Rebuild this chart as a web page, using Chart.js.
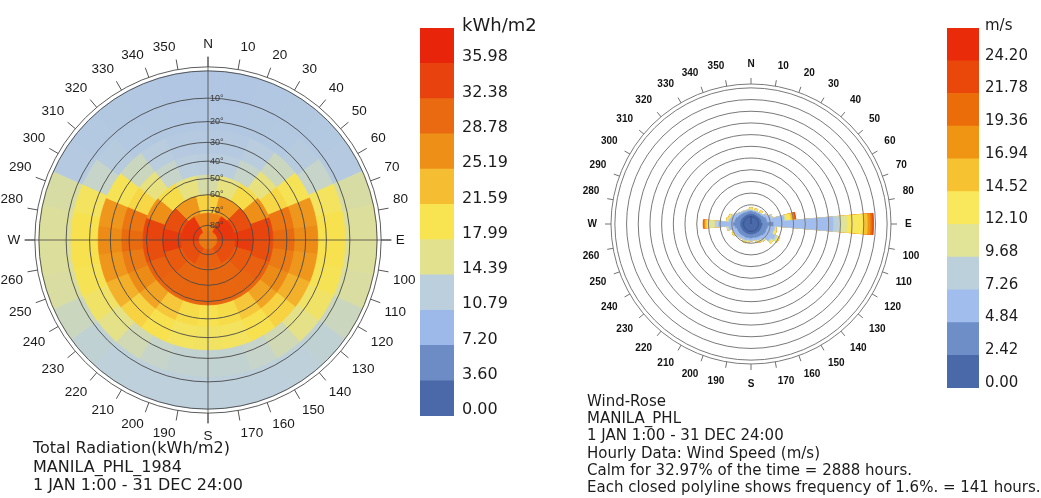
<!DOCTYPE html>
<html lang="en">
<head>
<meta charset="utf-8">
<title>Manila - total radiation sky dome and wind rose</title>
<script src="https://cdn.jsdelivr.net/npm/chart.js@4.4.1/dist/chart.umd.min.js"></script>
<style>
  html, body { margin: 0; padding: 0; background: #ffffff; }
  #page { position: relative; width: 1041px; height: 498px; overflow: hidden;
          font-family: "DejaVu Sans", Verdana, sans-serif; color: #1c1c1c; }
  #page canvas { position: absolute; }
  .caption { position: absolute; white-space: nowrap; }
</style>
</head>
<body>
<div id="page">
  <canvas id="skyDome" width="418" height="409" style="left:0px; top:36px;"></canvas>
  <canvas id="skyLegend" width="104" height="396" style="left:420px; top:26px;"></canvas>
  <canvas id="windRose" width="342" height="332" style="left:580px; top:58px;"></canvas>
  <canvas id="windLegend" width="94" height="368" style="left:947px; top:26px;"></canvas>

  <div class="caption" style="left:462px; top:14px; font-size:18px; line-height:22px;">kWh/m2</div>
  <div class="caption" style="left:985px; top:15px; font-size:15px; line-height:20px;">m/s</div>

  <div class="caption" style="left:33px; top:439px; font-size:16px; line-height:18.5px;">
    <div>Total Radiation(kWh/m2)</div>
    <div>MANILA_PHL_1984</div>
    <div>1 JAN 1:00 - 31 DEC 24:00</div>
  </div>
  <div class="caption" style="left:587px; top:393px; font-size:15px; line-height:17.2px;">
    <div>Wind-Rose</div>
    <div>MANILA_PHL</div>
    <div>1 JAN 1:00 - 31 DEC 24:00</div>
    <div>Hourly Data: Wind Speed (m/s)</div>
    <div>Calm for 32.97% of the time = 2888 hours.</div>
    <div>Each closed polyline shows frequency of 1.6%. = 141 hours.</div>
  </div>
</div>

<script>
// direction labels, N clockwise every 10 deg (used by both polar plots)
const DIRECTIONS = ['N', '10', '20', '30', '40', '50', '60', '70', '80', 'E',
  '100', '110', '120', '130', '140', '150', '160', '170', 'S',
  '190', '200', '210', '220', '230', '240', '250', '260', 'W',
  '280', '290', '300', '310', '320', '330', '340', '350'];

// ---- sky dome: total radiation per Tregenza patch (kWh/m2) ----
// each band starts with the patch centred on north and goes clockwise
const BAND_ALTITUDES = [0, 12, 24, 36, 48, 60, 72, 84];   // lower altitude of each band
const SKY_BAND_1 = [11.2, 11.2, 11.3, 11.4, 11.5, 11.8, 15.2, 15.6, 15.6, 15.3,
  14.0, 13.0, 12.8, 12.7, 12.7, 12.7, 12.7, 12.7, 12.8, 13.0,
  14.0, 15.3, 15.6, 15.6, 15.2, 11.8, 11.5, 11.4, 11.3, 11.2];
const SKY_BAND_2 = [11.3, 11.3, 11.4, 11.6, 12.0, 13.5, 19.0, 20.0, 20.0, 19.5,
  18.5, 16.5, 14.5, 13.5, 13.2, 13.2, 13.2, 13.5, 14.5, 16.5,
  18.5, 19.5, 20.0, 20.0, 19.0, 13.5, 12.0, 11.6, 11.4, 11.3];
const SKY_BAND_3 = [11.8, 11.8, 12.2, 14.0, 19.5, 26.5, 27.5, 26.5, 24.5, 21.5, 20.0, 19.0,
  18.8, 19.0, 20.0, 21.5, 24.5, 26.5, 27.5, 26.5, 19.5, 14.0, 12.2, 11.8];
const SKY_BAND_4 = [12.3, 12.5, 13.5, 17.0, 21.0, 29.5, 30.5, 29.0, 27.5, 25.5, 22.5, 20.5,
  20.0, 20.5, 22.5, 25.5, 27.5, 29.0, 30.5, 29.5, 21.0, 17.0, 13.5, 12.5];
const SKY_BAND_5 = [15.0, 17.0, 20.5, 27.0, 34.0, 33.0, 31.5, 31.0, 31.0,
  31.0, 31.0, 31.0, 31.5, 33.0, 34.0, 27.0, 20.5, 17.0];
const SKY_BAND_6 = [21.5, 26.5, 33.0, 35.0, 32.0, 31.0, 31.0, 31.0, 32.0, 35.0, 33.0, 26.5];
const SKY_BAND_7 = [28.5, 35.5, 33.0, 31.5, 33.0, 35.5];
const SKY_CAP = [29.0];
const ALTITUDE_RINGS = [80, 70, 60, 50, 40, 30, 20, 10];

const RAD_TICKS = [0.00, 3.60, 7.20, 10.79, 14.39, 17.99, 21.59, 25.19, 28.78, 32.38, 35.98];
const RAD_COLORS = ['#4b68a8', '#6d8cc6', '#9db9ea', '#bccfdd', '#e2e18e', '#f8e350',
  '#f5be32', '#ee9018', '#e96a10', '#e8420e', '#e8240a'];

// ---- wind rose: % of hours per 10 deg sector (N clockwise) for each speed class ----
const WIND_TICKS = [0.00, 2.42, 4.84, 7.26, 9.68, 12.10, 14.52, 16.94, 19.36, 21.78, 24.20];
const WIND_COLORS = ['#4a69a8', '#6d8ec6', '#a1bdee', '#bbd0db', '#e1e396', '#f9e85c',
  '#f6c232', '#f09414', '#eb6d0a', '#ea480a', '#e92b0a'];
const WIND_0_242 = [0.30, 0.30, 0.30, 0.28, 0.30, 0.32, 0.35, 0.40, 0.35, 0.50,
  0.45, 0.40, 0.40, 0.40, 0.35, 0.35, 0.35, 0.32, 0.35, 0.33,
  0.35, 0.33, 0.35, 0.35, 0.35, 0.35, 0.40, 0.40, 0.40, 0.38,
  0.35, 0.33, 0.32, 0.30, 0.30, 0.30];
const WIND_242_484 = [0.40, 0.35, 0.38, 0.35, 0.40, 0.42, 0.55, 0.70, 0.80, 1.50,
  0.80, 0.75, 0.80, 0.75, 0.65, 0.60, 0.55, 0.50, 0.55, 0.52,
  0.55, 0.52, 0.55, 0.58, 0.60, 0.60, 0.75, 1.00, 0.80, 0.75,
  0.60, 0.52, 0.45, 0.42, 0.38, 0.40];
const WIND_484_726 = [0.15, 0.12, 0.12, 0.12, 0.18, 0.20, 0.40, 0.70, 2.35, 8.20,
  0.90, 0.90, 1.40, 1.05, 0.60, 0.40, 0.35, 0.30, 0.30, 0.30,
  0.35, 0.35, 0.40, 0.45, 0.45, 0.50, 0.80, 2.00, 0.70, 0.60,
  0.45, 0.35, 0.25, 0.22, 0.18, 0.22];
const WIND_726_968 = [0.05, 0.03, 0.04, 0.05, 0.05, 0.06, 0.10, 0.15, 0.10, 0.80,
  0.15, 0.15, 0.25, 0.20, 0.10, 0.08, 0.07, 0.08, 0.10, 0.08,
  0.08, 0.10, 0.10, 0.12, 0.12, 0.15, 0.15, 0.50, 0.15, 0.12,
  0.20, 0.10, 0.08, 0.06, 0.04, 0.08];
const WIND_968_1210 = [0.05, 0, 0.05, 0, 0.05, 0, 0, 0.05, 0.20, 1.10,
  0.05, 0.10, 0.15, 0.10, 0.05, 0.05, 0.05, 0, 0, 0.05,
  0.05, 0, 0, 0, 0.05, 0, 0.05, 0.80, 0.05, 0.05,
  0, 0, 0, 0, 0, 0];
const WIND_1210_1452 = [0.25, 0, 0.25, 0, 0.25, 0, 0, 0, 0.60, 2.20,
  0.10, 0.25, 0.30, 0.25, 0.10, 0.25, 0.25, 0, 0, 0.25,
  0.25, 0, 0, 0, 0.25, 0, 0.10, 0.30, 0.25, 0.25,
  0, 0, 0, 0, 0, 0];
const WIND_1452_1694 = [0, 0, 0, 0, 0, 0, 0, 0, 0.25, 0.60, 0, 0, 0, 0, 0, 0, 0, 0,
  0, 0, 0, 0, 0, 0, 0, 0, 0, 0.20, 0, 0, 0, 0, 0, 0, 0, 0];
const WIND_1694_1936 = [0, 0, 0, 0, 0, 0, 0, 0, 0.20, 0.40, 0, 0, 0, 0, 0, 0, 0, 0,
  0, 0, 0, 0, 0, 0, 0, 0, 0, 0.15, 0, 0, 0, 0, 0, 0, 0, 0];
const WIND_1936_2178 = [0, 0, 0, 0, 0, 0, 0, 0, 0.15, 0.25, 0, 0, 0, 0, 0, 0, 0, 0,
  0, 0, 0, 0, 0, 0, 0, 0, 0, 0.15, 0, 0, 0, 0, 0, 0, 0, 0];
const WIND_2178_2420 = [0, 0, 0, 0, 0, 0, 0, 0, 0.10, 0.15, 0, 0, 0, 0, 0, 0, 0, 0,
  0, 0, 0, 0, 0, 0, 0, 0, 0, 0, 0, 0, 0, 0, 0, 0, 0, 0];
const WIND_OVER_2420 = [0, 0, 0, 0, 0, 0, 0, 0, 0.05, 0.05, 0, 0, 0, 0, 0, 0, 0, 0,
  0, 0, 0, 0, 0, 0, 0, 0, 0, 0, 0, 0, 0, 0, 0, 0, 0, 0];
const FREQ_STEP = 1.6;      // % per closed polyline
const FREQ_RINGS = 11;

document.addEventListener('DOMContentLoaded', function () {
  Chart.defaults.font.family = '"Liberation Sans", Arial, sans-serif';
  Chart.defaults.animation = false;

  // continuous colour along the legend, legend colours sit at the bin centres
  function hexToRgb(h) {
    const n = parseInt(h.slice(1), 16);
    return [n >> 16, (n >> 8) & 255, n & 255];
  }
  function legendColor(v, ticks, colors) {
    const step = ticks[1] - ticks[0];
    let t = v / step - 0.5;
    t = Math.max(0, Math.min(colors.length - 1, t));
    const i = Math.min(Math.floor(t), colors.length - 2);
    const f = t - i;
    const a = hexToRgb(colors[i]), b = hexToRgb(colors[i + 1]);
    const c = a.map((x, k) => Math.round(x + (b[k] - x) * f));
    return 'rgb(' + c.join(',') + ')';
  }

  // stereographic projection of the sky: horizon = 1, zenith = 0
  function stereo(alt) {
    return Math.tan((90 - alt) * Math.PI / 360);
  }

  // ---------- sky dome ----------
  try {
    const SKY_MAX = 1.084;   // scale edge (end of the direction ticks)
    const SKY_RIM = 1.024;   // outer circle around the horizon

    // patch 0 is centred on north, so it is split in two halves (start and end)
    function patchDataset(values, lowAlt) {
      const n = values.length;
      const w = 360 / n;
      const split = n > 1 ? [values[0]].concat(values.slice(1), [values[0]]) : values.slice();
      const colors = split.map(v => legendColor(v, RAD_TICKS, RAD_COLORS));
      const outer = stereo(lowAlt);
      return {
        data: split.map(() => outer),
        backgroundColor: colors,
        borderColor: colors,
        borderWidth: 0.8,
        angle: ctx => n === 1 ? 360 : ((ctx.dataIndex === 0 || ctx.dataIndex === n) ? w / 2 : w)
      };
    }

    const skyBands = [SKY_BAND_1, SKY_BAND_2, SKY_BAND_3, SKY_BAND_4, SKY_BAND_5, SKY_BAND_6, SKY_BAND_7, SKY_CAP];
    // first dataset is drawn on top, so the innermost band goes first
    const skyDatasets = skyBands.map((vals, b) => patchDataset(vals, BAND_ALTITUDES[b])).reverse();
    skyDatasets.push({ data: [SKY_RIM], angle: () => 360, backgroundColor: '#ffffff', borderWidth: 0 });

    const skyTickValues = [0].concat(ALTITUDE_RINGS.map(stereo), [1, SKY_RIM]);
    const skyTickLabels = [''].concat(ALTITUDE_RINGS.map(a => '       ' + a + '\u00b0'), ['', '']);
    const dirFont = { size: 13.5 };

    new Chart(document.getElementById('skyDome'), {
      type: 'polarArea',
      data: { labels: DIRECTIONS, datasets: skyDatasets },
      options: {
        responsive: false,
        animation: false,
        events: [],
        plugins: { legend: { display: false }, tooltip: { enabled: false } },
        scales: {
          // under the patches: direction ticks and labels
          r: {
            min: 0, max: SKY_MAX, bounds: 'data', startAngle: 0,
            grid: { display: false },
            angleLines: { display: true, color: '#555555', lineWidth: 1 },
            pointLabels: { display: true, padding: 0, color: '#1a1a1a', font: dirFont },
            ticks: { display: true, font: { size: 9 }, backdropPadding: 0, showLabelBackdrop: false, color: 'rgba(0,0,0,0)' }
          },
          // over the patches: altitude circles, N-S / E-W lines
          r2: {
            type: 'radialLinear', axis: 'r',
            min: 0, max: SKY_MAX, bounds: 'data', startAngle: 0,
            grid: { display: true, circular: true, z: 1, color: '#4a4a4a', lineWidth: 0.9 },
            angleLines: { display: true, color: 'rgba(70,70,70,0.8)', lineWidth: ctx => ctx.index % 9 === 0 ? 1 : 0 },
            pointLabels: { display: true, padding: 0, color: 'rgba(0,0,0,0)', font: dirFont },
            afterBuildTicks: s => { s.ticks = skyTickValues.map(v => ({ value: v })); },
            ticks: {
              display: true, z: 1, font: { size: 9 }, backdropPadding: 0, showLabelBackdrop: false,
              color: '#3a3a3a', callback: (v, i) => skyTickLabels[i]
            }
          }
        }
      }
    });
  } catch (error) {
    console.error('Error drawing sky dome:', error);
  }

  // ---------- wind rose ----------
  try {
    const ROSE_MIN = -1.03;   // leaves room for the calm circle
    const ROSE_MAX = 18.95;
    const ROSE_RIM = 18.13;

    const classes = [WIND_0_242, WIND_242_484, WIND_484_726, WIND_726_968, WIND_968_1210,
      WIND_1210_1452, WIND_1452_1694, WIND_1694_1936, WIND_1936_2178, WIND_2178_2420, WIND_OVER_2420];

    const roseDatasets = [{
      data: [0], angle: () => 360,
      backgroundColor: WIND_COLORS[0], borderColor: '#3a5590', borderWidth: 1
    }];
    let running = new Array(DIRECTIONS.length).fill(0);
    classes.forEach((cls, k) => {
      running = running.map((s, i) => s + cls[i]);
      const split = [running[0]].concat(running.slice(1), [running[0]]);
      roseDatasets.push({
        data: split,
        backgroundColor: WIND_COLORS[k],
        borderColor: WIND_COLORS[k],
        borderWidth: 0.5,
        angle: ctx => (ctx.dataIndex === 0 || ctx.dataIndex === DIRECTIONS.length) ? 5 : 10
      });
    });
    roseDatasets.push({ data: [ROSE_RIM], angle: () => 360, backgroundColor: '#ffffff', borderWidth: 0 });

    const ringValues = [];
    for (let k = 1; k <= FREQ_RINGS; k++) ringValues.push(k * FREQ_STEP);
    ringValues.push(ROSE_RIM);

    const labelFont = { size: 10, weight: 'bold' };
    new Chart(document.getElementById('windRose'), {
      type: 'polarArea',
      data: { labels: DIRECTIONS, datasets: roseDatasets },
      options: {
        responsive: false,
        animation: false,
        events: [],
        plugins: { legend: { display: false }, tooltip: { enabled: false } },
        scales: {
          r: {
            min: ROSE_MIN, max: ROSE_MAX, bounds: 'data', startAngle: 0,
            grid: { display: false },
            angleLines: { display: true, color: '#707070', lineWidth: 1 },
            pointLabels: { display: true, padding: 8, color: '#111111', font: labelFont },
            ticks: { display: false }
          },
          r2: {
            type: 'radialLinear', axis: 'r',
            min: ROSE_MIN, max: ROSE_MAX, bounds: 'data', startAngle: 0,
            grid: { display: true, circular: true, z: 1, color: '#7a7a7a', lineWidth: 1 },
            angleLines: { display: false },
            pointLabels: { display: true, padding: 8, color: 'rgba(0,0,0,0)', font: labelFont },
            afterBuildTicks: s => { s.ticks = ringValues.map(v => ({ value: v })); },
            ticks: { display: false }
          }
        }
      }
    });
  } catch (error) {
    console.error('Error drawing wind rose:', error);
  }

  // ---------- colour legends ----------
  function colorBar(canvasId, ticks, colors, axisWidth, pad, fontSize, offset) {
    const step = ticks[1] - ticks[0];
    const datasets = colors.map((c, i) => ({
      data: [i < ticks.length - 1 ? ticks[i + 1] - ticks[i] : step],
      backgroundColor: c,
      borderWidth: 0,
      barPercentage: 1,
      categoryPercentage: 1
    }));
    new Chart(document.getElementById(canvasId), {
      type: 'bar',
      data: { labels: [''], datasets: datasets },
      options: {
        responsive: false,
        animation: false,
        events: [],
        layout: { padding: { top: 2, bottom: 6, left: 0, right: 0 } },
        plugins: { legend: { display: false }, tooltip: { enabled: false } },
        scales: {
          x: { display: false, stacked: true },
          y: {
            stacked: true, position: 'right', bounds: 'data',
            min: 0, max: ticks[ticks.length - 1] + step,
            grid: { display: false, drawTicks: false },
            border: { display: false },
            afterBuildTicks: s => { s.ticks = ticks.map(v => ({ value: v })); },
            afterFit: s => { s.width = axisWidth; s.paddingTop = 0; s.paddingBottom = 0; },
            ticks: {
              padding: pad, labelOffset: offset, color: '#1c1c1c',
              font: { family: '"DejaVu Sans", Verdana, sans-serif', size: fontSize },
              callback: v => Number(v).toFixed(2)
            }
          }
        }
      }
    });
  }

  try {
    colorBar('skyLegend', RAD_TICKS, RAD_COLORS, 70, 8, 16, -6);
    colorBar('windLegend', WIND_TICKS, WIND_COLORS, 62, 6, 15, -5);
  } catch (error) {
    console.error('Error drawing legends:', error);
  }
});
</script>
</body>
</html>
